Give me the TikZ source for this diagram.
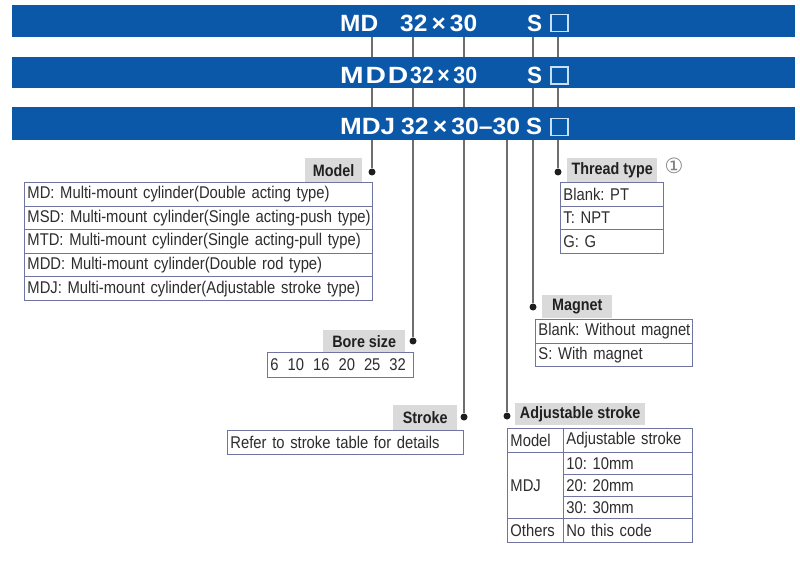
\documentclass[tikz,border=0pt]{standalone}
\usepackage{fontspec}
\usepackage{graphicx}
\setmainfont{Liberation Sans}
\newfontfamily\narrowf[FakeStretch=0.87]{Liberation Sans}
\newfontfamily\symf{DejaVu Sans}
\newcommand\cellsetup{\hyphenpenalty=10000\relax\spaceskip=0.22em\relax}
\newcommand\lblsetup{\spaceskip=0.24em\relax}
\definecolor{barblue}{RGB}{12,88,168}
\definecolor{tblc}{RGB}{112,116,160}
\definecolor{txtc}{RGB}{45,45,45}
\definecolor{lblc}{RGB}{218,218,218}
\definecolor{connc}{RGB}{110,110,110}
\definecolor{dotc}{RGB}{30,30,30}
\definecolor{sqc}{RGB}{200,225,250}
\tikzset{
  bartxt/.style={anchor=base west, inner sep=0pt, text=white, font=\bfseries\fontsize{23.5}{25}\selectfont},
  sqbox/.style={draw=sqc, line width=1.2pt, minimum size=17pt, inner sep=0pt},
  cell/.style 2 args={draw=tblc, line width=0.9pt, anchor=north west, inner xsep=3pt, inner ysep=0pt,
     text width=#1, minimum height=#2, align=left, text=txtc, font=\narrowf\fontsize{17}{19}\selectfont\cellsetup,
     execute at begin node=\hbox\bgroup, execute at end node=\egroup},
  lbl/.style 2 args={fill=lblc, anchor=north west, inner sep=0pt, minimum width=#1, minimum height=#2,
     text=txtc!70!black, font=\narrowf\bfseries\fontsize{16.5}{18}\selectfont\lblsetup},
  dotn/.style={circle, fill=dotc, inner sep=0pt, minimum size=7pt},
  conn/.style={draw=connc, line width=1.3pt}
}
\begin{document}
\frenchspacing
\begin{tikzpicture}[x=1pt,y=-1pt]
\useasboundingbox (0,0) rectangle (800,564);
\fill[white] (0,0) rectangle (800,564);
% top coordinates of connectors
\coordinate (tModel) at (372,37);
\coordinate (tBore) at (413,37);
\coordinate (tStroke) at (464,37);
\coordinate (tAdj) at (507,140);
\coordinate (tMag) at (533,37);
\coordinate (tThread) at (558,37);
% dots
\node[dotn] (dModel) at (372,172) {};
\node[dotn] (dBore) at (413,341) {};
\node[dotn] (dStroke) at (464,417) {};
\node[dotn] (dAdj) at (507,416) {};
\node[dotn] (dMag) at (533,307) {};
\node[dotn] (dThread) at (558,172) {};
% connectors
\draw[conn] (tModel) -- (dModel);
\draw[conn] (tBore) -- (dBore);
\draw[conn] (tStroke) -- (dStroke);
\draw[conn] (tAdj) -- (dAdj);
\draw[conn] (tMag) -- (dMag);
\draw[conn] (tThread) -- (dThread);
% bars
\fill[barblue] (12,5) rectangle (795,37);
\fill[barblue] (12,57) rectangle (795,88);
\fill[barblue] (12,107) rectangle (795,140);
% bar 1
\node[bartxt] (b1a) at (340,32) {\resizebox{38pt}{\height}{MD}};
\node[bartxt] (b1b) at (400,32) {\resizebox{77pt}{\height}{32\,×\,30}};
\node[bartxt] (b1c) at (527,32) {\resizebox{15pt}{\height}{S}};
\node[sqbox] (b1d) at (559.5,23) {};
% bar 2
\node[bartxt] (b2a) at (340,83.5) {\resizebox{68pt}{\height}{M\kern1.5pt D\kern1.5pt D}};
\node[bartxt] (b2b) at (410,83.5) {\resizebox{67pt}{\height}{32\,×\,30}};
\node[bartxt] (b2c) at (527,83.5) {\resizebox{15pt}{\height}{S}};
\node[sqbox] (b2d) at (559.5,75.5) {};
% bar 3
\node[bartxt] (b3a) at (340,134.5) {\resizebox{55pt}{\height}{MDJ}};
\node[bartxt] (b3b) at (401,134.5) {\resizebox{119pt}{\height}{32\,×\,30–30}};
\node[bartxt] (b3c) at (526,134.5) {\resizebox{16pt}{\height}{S}};
\node[sqbox] (b3d) at (559.5,127) {};
% Model
\node[lbl={57pt}{24pt}] (lModel) at (305,158) {Model};
\node[cell={342pt}{23.6pt}] (m1) at (24,182) {MD: Multi-mount cylinder(Double acting type)};
\node[cell={342pt}{23.6pt}] (m2) at (24,205.6) {MSD: Multi-mount cylinder(Single acting-push type)};
\node[cell={342pt}{23.6pt}] (m3) at (24,229.2) {MTD: Multi-mount cylinder(Single acting-pull type)};
\node[cell={342pt}{23.6pt}] (m4) at (24,252.8) {MDD: Multi-mount cylinder(Double rod type)};
\node[cell={342pt}{23.6pt}] (m5) at (24,276.4) {MDJ: Multi-mount cylinder(Adjustable stroke type)};
% Thread type
\node[lbl={90pt}{24pt}] (lThread) at (567,158) {Thread type};
\node[text=gray, inner sep=0pt, font=\symf\fontsize{21}{22}\selectfont] (circ) at (674,166) {①};
\node[cell={97pt}{23.7pt}] (t1) at (560,182) {Blank: PT};
\node[cell={97pt}{23.7pt}] (t2) at (560,205.7) {T: NPT};
\node[cell={97pt}{23.7pt}] (t3) at (560,229.4) {G: G};
% Magnet
\node[lbl={70pt}{23pt}] (lMag) at (542,295) {Magnet};
\node[cell={151pt}{23.5pt}] (g1) at (535,319) {Blank: Without magnet};
\node[cell={151pt}{23.5pt}] (g2) at (535,342.5) {S: With magnet};
% Bore size
\node[lbl={82pt}{22pt}] (lBore) at (323,330) {Bore size};
\node[cell={140pt}{25pt}] (bs) at (267,352) {6\hspace{9pt}10\hspace{9pt}16\hspace{9pt}20\hspace{9pt}25\hspace{9pt}32};
% Stroke
\node[lbl={64pt}{25pt}] (lStroke) at (393,405) {Stroke};
\node[cell={230pt}{23.5pt}] (st) at (227,430) {Refer to stroke table for details};
% Adjustable stroke
\node[lbl={130pt}{22pt}] (lAdj) at (515,403) {Adjustable stroke};
\node[cell={50pt}{24pt}] (a11) at (507,428) {Model};
\node[cell={123pt}{24pt}] (a12) at (563,428) {Adjustable stroke};
\node[cell={50pt}{66pt}] (a21) at (507,452) {MDJ};
\node[cell={123pt}{22pt}] (a22) at (563,452) {10: 10mm};
\node[cell={123pt}{22pt}] (a32) at (563,474) {20: 20mm};
\node[cell={123pt}{22pt}] (a42) at (563,496) {30: 30mm};
\node[cell={50pt}{24pt}] (a51) at (507,518) {Others};
\node[cell={123pt}{24pt}] (a52) at (563,518) {No this code};
\end{tikzpicture}
\end{document}
